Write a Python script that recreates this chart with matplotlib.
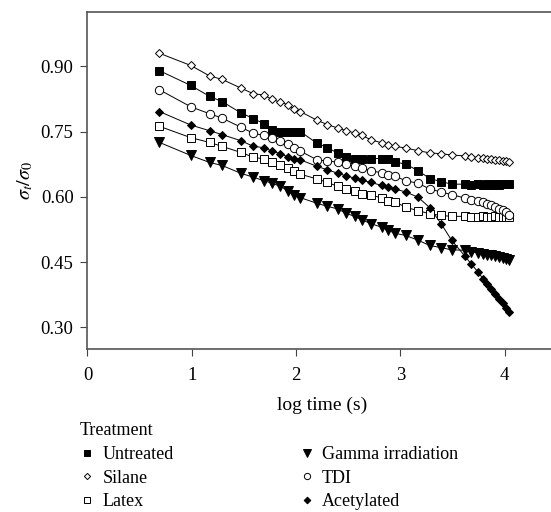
import matplotlib
matplotlib.use("Agg")
import matplotlib.pyplot as plt
from matplotlib.ticker import FormatStrFormatter

plt.rcParams["font.family"] = ["Liberation Serif", "DejaVu Serif"]
plt.rcParams["mathtext.fontset"] = "stix"

# log10 of time (s) at which the readings were taken
log_time = [0.69, 0.99, 1.17, 1.29, 1.47, 1.59, 1.69, 1.77, 1.85, 1.92, 1.98, 2.04,
            2.20, 2.30, 2.40, 2.48, 2.56, 2.63, 2.72, 2.82, 2.88, 2.95, 3.05, 3.17,
            3.28, 3.39, 3.49, 3.62, 3.68, 3.74, 3.79, 3.83, 3.87, 3.91, 3.94, 3.98,
            4.01, 4.04]

untreated = [0.890, 0.856, 0.831, 0.819, 0.793, 0.780, 0.768, 0.754, 0.750, 0.750,
             0.750, 0.750, 0.723, 0.713, 0.700, 0.691, 0.688, 0.688, 0.688, 0.688,
             0.688, 0.680, 0.675, 0.660, 0.642, 0.635, 0.629, 0.629, 0.628, 0.629,
             0.628, 0.629, 0.628, 0.629, 0.628, 0.629, 0.629, 0.629]
silane = [0.930, 0.902, 0.878, 0.870, 0.850, 0.837, 0.834, 0.824, 0.817, 0.812,
          0.802, 0.796, 0.776, 0.766, 0.758, 0.752, 0.747, 0.741, 0.731, 0.724,
          0.719, 0.716, 0.712, 0.706, 0.701, 0.699, 0.696, 0.694, 0.692, 0.690,
          0.689, 0.688, 0.686, 0.685, 0.684, 0.683, 0.682, 0.681]
latex = [0.762, 0.736, 0.725, 0.716, 0.702, 0.691, 0.687, 0.679, 0.672, 0.666,
         0.659, 0.652, 0.641, 0.633, 0.624, 0.618, 0.613, 0.607, 0.603, 0.598,
         0.591, 0.588, 0.576, 0.568, 0.561, 0.557, 0.555, 0.555, 0.554, 0.554,
         0.555, 0.554, 0.554, 0.555, 0.554, 0.554, 0.554, 0.553]
gamma = [0.725, 0.695, 0.679, 0.672, 0.654, 0.645, 0.637, 0.631, 0.624, 0.614,
         0.603, 0.598, 0.585, 0.578, 0.572, 0.562, 0.555, 0.547, 0.538, 0.530,
         0.523, 0.516, 0.511, 0.500, 0.488, 0.483, 0.478, 0.477, 0.474, 0.471,
         0.469, 0.467, 0.465, 0.463, 0.461, 0.459, 0.457, 0.455]
tdi = [0.846, 0.807, 0.791, 0.781, 0.760, 0.746, 0.741, 0.736, 0.729, 0.721,
       0.713, 0.705, 0.685, 0.682, 0.680, 0.676, 0.670, 0.666, 0.660, 0.655,
       0.651, 0.647, 0.637, 0.631, 0.618, 0.611, 0.605, 0.597, 0.593, 0.590,
       0.587, 0.583, 0.580, 0.577, 0.573, 0.569, 0.564, 0.558]
acetylated = [0.796, 0.765, 0.752, 0.743, 0.729, 0.716, 0.713, 0.705, 0.699, 0.692,
              0.688, 0.685, 0.670, 0.662, 0.654, 0.648, 0.643, 0.638, 0.633, 0.626,
              0.622, 0.618, 0.611, 0.599, 0.575, 0.538, 0.500, 0.463, 0.445, 0.428,
              0.412, 0.400, 0.389, 0.376, 0.366, 0.355, 0.345, 0.335]

labels = ["Untreated", "Silane", "Latex", "Gamma irradiation", "TDI", "Acetylated"]
series = [untreated, silane, latex, gamma, tdi, acetylated]
markers = ["s", "D", "s", "v", "o", "D"]
filled = [True, False, False, True, False, True]
sizes = [6.0, 4.2, 5.5, 7.0, 6.0, 4.5]

fig = plt.figure(figsize=(5.51, 5.12), dpi=100)
ax = fig.add_axes([0.1588, 0.3184, 0.852, 0.6582])

handles = []
for vals, lab, mk, fl, ms in zip(series, labels, markers, filled, sizes):
    ax.plot(log_time, vals, color="black", lw=0.7, zorder=1)
    h, = ax.plot(log_time, vals, ls="none", marker=mk, ms=ms,
                 mfc="black" if fl else "white", mec="black", mew=0.7,
                 label=lab, zorder=2)
    handles.append(h)

ax.set_xlim(0, 4.5)
ax.set_ylim(0.25, 1.025)
ax.set_xticks([0, 1, 2, 3, 4])
ax.set_yticks([0.30, 0.45, 0.60, 0.75, 0.90])
ax.yaxis.set_major_formatter(FormatStrFormatter("%.2f"))
ax.tick_params(direction="out", length=5, width=0.8, labelsize=13.5,
               color="#444444", pad=5)
ax.tick_params(axis="x", pad=8)
for side in ["left", "bottom", "top"]:
    ax.spines[side].set_color("#555555")
    ax.spines[side].set_linewidth(1.2)
ax.spines["right"].set_visible(False)

ax.set_xlabel("log time (s)", fontsize=14, labelpad=9)
ax.set_ylabel(r"$\sigma_t/\sigma_0$", fontsize=14.5)

leg = fig.legend(handles=handles, ncol=2, loc="upper left",
                 bbox_to_anchor=(0.129, 0.193), title="Treatment",
                 fontsize=13, title_fontsize=13, frameon=False,
                 markerscale=0.75, handlelength=0.8, handletextpad=0.45,
                 columnspacing=6.95, labelspacing=0.37, borderpad=0.0,
                 alignment="left")

fig.savefig("out.png", dpi=100)
